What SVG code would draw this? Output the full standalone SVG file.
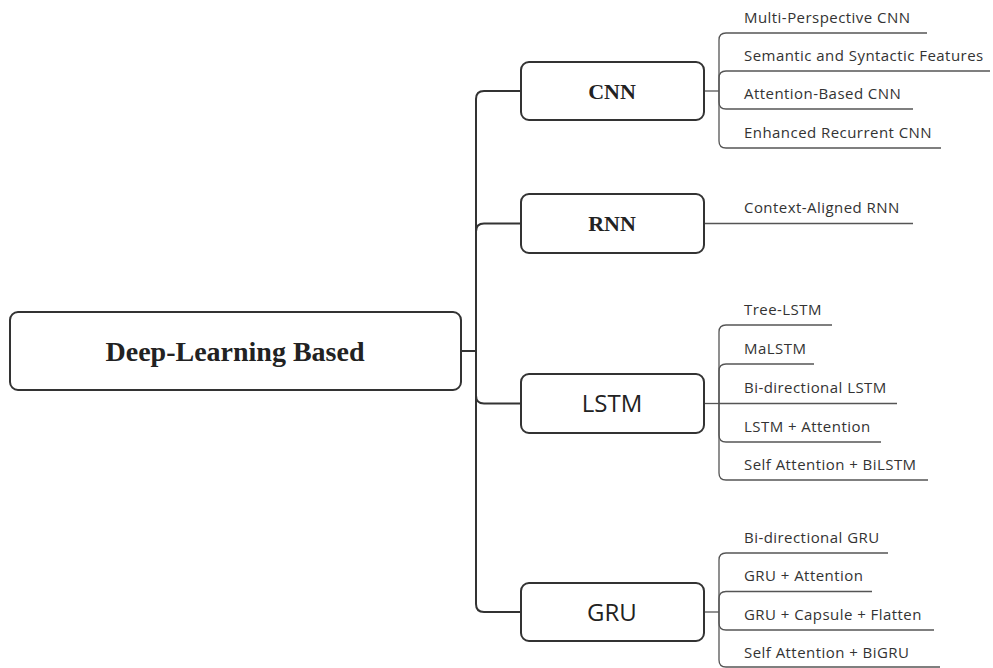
<svg xmlns="http://www.w3.org/2000/svg" width="993" height="668" viewBox="0 0 993 668">
<style>
.box{fill:#fff;stroke:#333;stroke-width:2}
.trunk{fill:none;stroke:#333;stroke-width:2}
.leaf{fill:none;stroke:#555;stroke-width:1.3}
.ser{font-family:"Liberation Serif","Times New Roman",serif;font-weight:bold;fill:#222;text-anchor:middle}
.sans{font-family:"Open Sans","Liberation Sans",sans-serif;fill:#222;text-anchor:middle}
.lt{font-family:"Open Sans","Liberation Sans",sans-serif;font-size:15px;letter-spacing:0.45px;fill:#333}
</style>
<rect width="993" height="668" fill="#fff"/>
<g id="connectors">
<path class="trunk" d="M461 351H476"/>
<path class="trunk" d="M476 351V99Q476 91 484 91H521"/>
<path class="trunk" d="M476 351V231.5Q476 223.5 484 223.5H521"/>
<path class="trunk" d="M476 351V395.5Q476 403.5 484 403.5H521"/>
<path class="trunk" d="M476 351V604Q476 612 484 612H521"/>
<path class="leaf" d="M704 91H719"/>
<path class="leaf" d="M719 91V40Q719 33 726 33H927"/>
<path class="leaf" d="M719 91V78Q719 71 726 71H990"/>
<path class="leaf" d="M719 91V102Q719 109 726 109H913"/>
<path class="leaf" d="M719 91V141Q719 148 726 148H941"/>
<path class="leaf" d="M704 223.5H913"/>
<path class="leaf" d="M704 403.5H719"/>
<path class="leaf" d="M719 403.5V332Q719 325 726 325H832"/>
<path class="leaf" d="M719 403.5V371Q719 364 726 364H814"/>
<path class="leaf" d="M719 403.5H897"/>
<path class="leaf" d="M719 403.5V435Q719 442 726 442H881"/>
<path class="leaf" d="M719 403.5V473Q719 480 726 480H928"/>
<path class="leaf" d="M704 612H719"/>
<path class="leaf" d="M719 612V560Q719 553 726 553H888"/>
<path class="leaf" d="M719 612V598.5Q719 591.5 726 591.5H872"/>
<path class="leaf" d="M719 612V623Q719 630 726 630H934"/>
<path class="leaf" d="M719 612V660Q719 667 726 667H940"/>
</g>
<g id="root">
<rect class="box" x="10" y="312" width="451" height="78" rx="8"/>
<text class="ser" x="235" y="361" font-size="28">Deep-Learning Based</text>
</g>
<g id="cnn">
<rect class="box" x="521" y="62" width="183" height="58" rx="8"/>
<text class="ser" x="612" y="99" font-size="22">CNN</text>
</g>
<g id="rnn">
<rect class="box" x="521" y="194" width="183" height="59" rx="8"/>
<text class="ser" x="612" y="231" font-size="22">RNN</text>
</g>
<g id="lstm">
<rect class="box" x="521" y="374" width="183" height="59" rx="8"/>
<text class="sans" x="612" y="412" font-size="24">LSTM</text>
</g>
<g id="gru">
<rect class="box" x="521" y="583" width="183" height="58" rx="8"/>
<text class="sans" x="612" y="621" font-size="24">GRU</text>
</g>
<g id="cnn-leaves">
<text class="lt" x="744" y="23">Multi-Perspective CNN</text>
<text class="lt" x="744" y="61">Semantic and Syntactic Features</text>
<text class="lt" x="744" y="99">Attention-Based CNN</text>
<text class="lt" x="744" y="138">Enhanced Recurrent CNN</text>
</g>
<g id="rnn-leaves">
<text class="lt" x="744" y="213">Context-Aligned RNN</text>
</g>
<g id="lstm-leaves">
<text class="lt" x="744" y="315">Tree-LSTM</text>
<text class="lt" x="744" y="354">MaLSTM</text>
<text class="lt" x="744" y="393">Bi-directional LSTM</text>
<text class="lt" x="744" y="432">LSTM + Attention</text>
<text class="lt" x="744" y="470">Self Attention + BiLSTM</text>
</g>
<g id="gru-leaves">
<text class="lt" x="744" y="543">Bi-directional GRU</text>
<text class="lt" x="744" y="581">GRU + Attention</text>
<text class="lt" x="744" y="620">GRU + Capsule + Flatten</text>
<text class="lt" x="744" y="658">Self Attention + BiGRU</text>
</g>
</svg>
